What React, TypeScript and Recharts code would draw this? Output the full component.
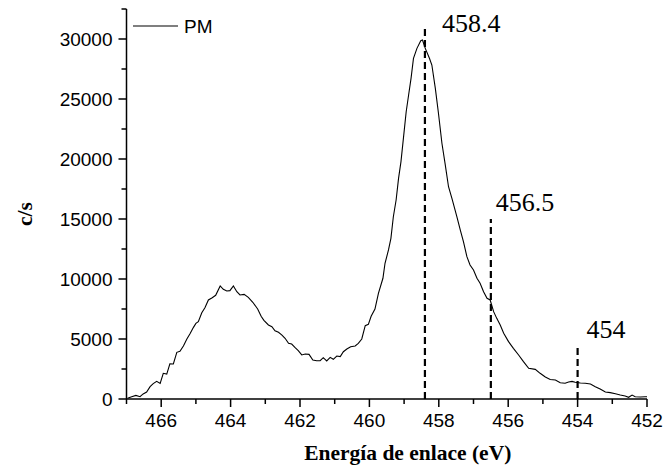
import React from 'react';
import { LineChart, Line, XAxis, YAxis, ReferenceLine, Legend } from 'recharts';

const energy = [
  466.97, 466.85, 466.73, 466.61, 466.52, 466.42, 466.32, 466.23, 466.13, 466.03,
  465.94, 465.84, 465.75, 465.65, 465.55, 465.46, 465.36, 465.26, 465.17, 465.07,
  465.0, 464.93, 464.83, 464.74, 464.64, 464.53, 464.43, 464.3, 464.21, 464.11,
  464.02, 463.92, 463.82, 463.73, 463.61, 463.49, 463.36, 463.22, 463.12, 463.04,
  462.91, 462.81, 462.72, 462.62, 462.52, 462.43, 462.33, 462.24, 462.14, 462.05,
  461.95, 461.85, 461.74, 461.63, 461.52, 461.42, 461.33, 461.23, 461.13, 461.04,
  460.94, 460.84, 460.75, 460.65, 460.54, 460.41, 460.32, 460.22, 460.12, 460.03,
  459.95, 459.84, 459.74, 459.61, 459.55, 459.45, 459.38, 459.31, 459.23, 459.16,
  459.09, 459.02, 458.94, 458.87, 458.8, 458.73, 458.63, 458.52, 458.47, 458.39,
  458.27, 458.2, 458.1, 458.01, 457.91, 457.82, 457.72, 457.62, 457.48, 457.38,
  457.29, 457.19, 457.1, 457.0, 456.9, 456.81, 456.71, 456.61, 456.52, 456.42,
  456.33, 456.23, 456.13, 455.99, 455.85, 455.7, 455.56, 455.41, 455.22, 455.08,
  454.93, 454.79, 454.64, 454.5, 454.36, 454.26, 454.16, 454.07, 453.92, 453.78,
  453.63, 453.49, 453.35, 453.2, 453.06, 452.91, 452.77, 452.63, 452.53, 452.43,
  452.34, 452.19, 452.05, 452.0,
];

const counts = [
  60, 190, 300, 190, 420, 580, 1030, 1280, 1470, 1300,
  2140, 2080, 2940, 2920, 3890, 3970, 4420, 5000, 5440, 5970,
  6300, 6440, 7190, 7610, 8250, 8440, 8640, 9420, 9140, 9000,
  9030, 9420, 8940, 8670, 8720, 8470, 8060, 7500, 6900, 6560,
  6170, 6030, 5690, 5560, 5330, 5060, 4640, 4580, 4280, 4030,
  3670, 3750, 3720, 3250, 3190, 3190, 3440, 3170, 3470, 3310,
  3580, 3530, 3940, 4170, 4360, 4420, 4640, 5000, 6110, 6220,
  6900, 7500, 8810, 10060, 11310, 12420, 13390, 15190, 16580, 18390,
  19780, 21720, 23940, 25330, 26720, 28390, 29220, 29860, 29920, 29220,
  28390, 27830, 25890, 23810, 21310, 19640, 17690, 16700, 15190, 14080,
  13110, 11860, 11170, 10750, 10060, 9640, 8940, 8390, 8250, 7280,
  6720, 6170, 5480, 4780, 4220, 3670, 3110, 2560, 2470, 2140,
  1830, 1620, 1580, 1360, 1310, 1420, 1470, 1390, 1330, 1310,
  1250, 1030, 830, 580, 530, 440, 330, 250, 140, 330,
  190, 170, 190, 190,
];

const xTicks = [467, 466, 465, 464, 463, 462, 461, 460, 459, 458, 457, 456, 455, 454, 453, 452];
const xLabeledTicks = [466, 464, 462, 460, 458, 456, 454, 452];
const yTicks = [0, 2500, 5000, 7500, 10000, 12500, 15000, 17500, 20000, 22500, 25000, 27500, 30000, 32500];
const yLabeledTicks = [0, 5000, 10000, 15000, 20000, 25000, 30000];

const peakPositions = [458.4, 456.5, 454];
const peakHeights = [31000, 15000, 4500];
const peakLabels = ['458.4', '456.5', '454'];
const peakLabelOffsets = [
  { dx: 17, dy: 5 },
  { dx: 5, dy: -8 },
  { dx: 9, dy: -7 },
];

const seriesName = 'PM';
const xTitle = 'Energía de enlace (eV)';
const yTitle = 'c/s';

const data = energy.map((x, i) => ({ x, y: counts[i] }));

const SANS = '"Liberation Sans", Arial, sans-serif';
const SERIF = '"Liberation Serif", "Times New Roman", serif';

const XTick = (props: any) => {
  const { x, y, payload } = props;
  const v = payload.value;
  const major = xLabeledTicks.includes(v);
  return (
    <g>
      <line x1={x} y1={y} x2={x} y2={y + (major ? 8 : 5)} stroke="#000" strokeWidth={1.5} />
      {major && (
        <text x={x} y={y + 28} textAnchor="middle" fontFamily={SANS} fontSize={19} fill="#000">
          {v}
        </text>
      )}
    </g>
  );
};

const YTick = (props: any) => {
  const { x, y, payload } = props;
  const v = payload.value;
  const major = yLabeledTicks.includes(v);
  return (
    <g>
      <line x1={x} y1={y} x2={x - (major ? 8 : 5)} y2={y} stroke="#000" strokeWidth={1.5} />
      {major && (
        <text x={x - 14} y={y + 7} textAnchor="end" fontFamily={SANS} fontSize={19} fill="#000">
          {v}
        </text>
      )}
    </g>
  );
};

const XTitle = (props: any) => {
  const vb = props.viewBox || { x: 0, y: 0, width: 0, height: 0 };
  return (
    <text
      x={vb.x + vb.width / 2 + 21}
      y={vb.y + 61}
      textAnchor="middle"
      fontFamily={SERIF}
      fontWeight="bold"
      fontSize={21.5}
      fill="#000"
    >
      {xTitle}
    </text>
  );
};

const YTitle = (props: any) => {
  const vb = props.viewBox || { x: 0, y: 0, width: 0, height: 0 };
  const cx = vb.x + 5;
  const cy = vb.y + vb.height / 2 + 10;
  return (
    <text
      x={cx}
      y={cy}
      transform={`rotate(-90 ${cx} ${cy})`}
      textAnchor="middle"
      fontFamily={SERIF}
      fontWeight="bold"
      fontSize={21.5}
      fill="#000"
    >
      {yTitle}
    </text>
  );
};

const makePeakLabel = (i: number) => (props: any) => {
  const vb = props.viewBox || { x: 0, y: 0 };
  return (
    <text
      x={vb.x + peakLabelOffsets[i].dx}
      y={vb.y + peakLabelOffsets[i].dy}
      fontFamily={SERIF}
      fontSize={26}
      fill="#000"
    >
      {peakLabels[i]}
    </text>
  );
};

const LegendContent = () => (
  <svg width={100} height={24} style={{ display: 'block' }}>
    <line x1={0} y1={10} x2={45} y2={10} stroke="#555" strokeWidth={1.3} />
    <text x={51} y={17.3} fontFamily={SANS} fontSize={19} fill="#000">
      {seriesName}
    </text>
  </svg>
);

export default function App() {
  return (
    <div style={{ position: 'absolute', left: 0, top: 0, background: '#fff' }}>
      <LineChart
        width={665}
        height={468}
        data={data}
        margin={{ top: 9, right: 18, bottom: 9, left: 26.5 }}
      >
        <XAxis
          type="number"
          dataKey="x"
          domain={[452, 467]}
          reversed
          ticks={xTicks}
          interval={0}
          tickSize={0}
          tickMargin={0}
          tickLine={false}
          tick={<XTick />}
          height={60}
          axisLine={{ stroke: '#000', strokeWidth: 1.5 }}
          allowDataOverflow
          label={<XTitle />}
        />
        <YAxis
          type="number"
          domain={[0, 32500]}
          ticks={yTicks}
          interval={0}
          tickSize={0}
          tickMargin={0}
          tickLine={false}
          tick={<YTick />}
          width={100}
          axisLine={{ stroke: '#000', strokeWidth: 1.5 }}
          allowDataOverflow
          label={<YTitle />}
        />
        {peakPositions.map((p, i) => (
          <ReferenceLine
            key={p}
            segment={[
              { x: p, y: 0 },
              { x: p, y: peakHeights[i] },
            ]}
            stroke="#000"
            strokeWidth={2.2}
            strokeDasharray="7 4"
            ifOverflow="visible"
            label={makePeakLabel(i)}
          />
        ))}
        <Line
          type="linear"
          dataKey="y"
          name={seriesName}
          stroke="#000"
          strokeWidth={1.1}
          dot={false}
          activeDot={false}
          isAnimationActive={false}
        />
        <Legend
          layout="vertical"
          align="center"
          verticalAlign="middle"
          content={<LegendContent />}
          wrapperStyle={{ left: 133, top: 16, width: 100, height: 24 }}
        />
      </LineChart>
    </div>
  );
}
